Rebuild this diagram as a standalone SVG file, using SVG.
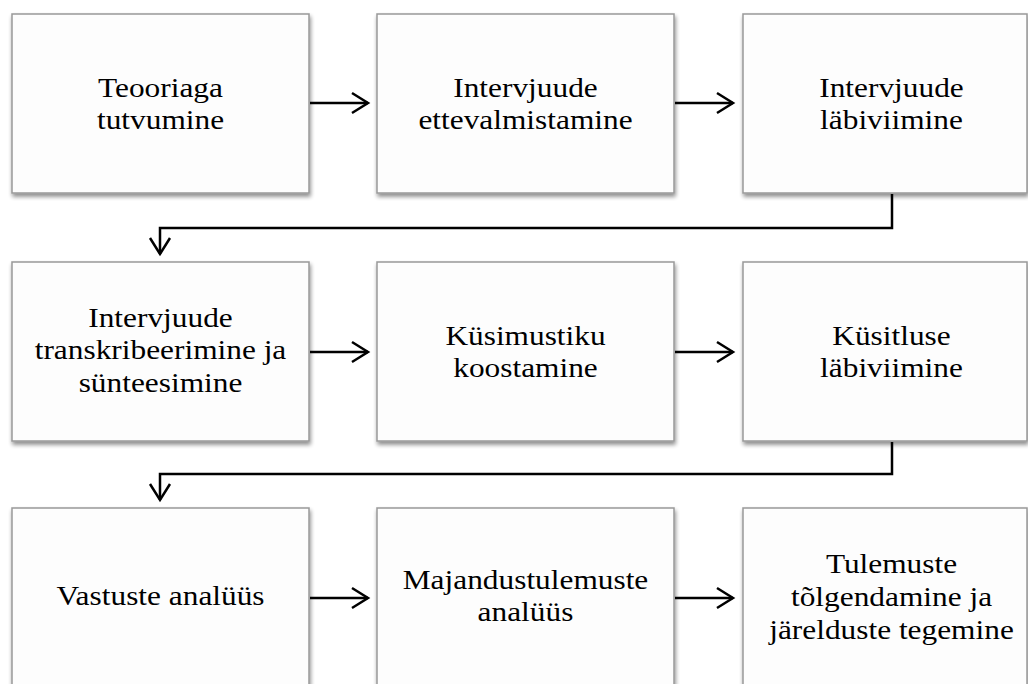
<svg xmlns="http://www.w3.org/2000/svg" width="1028" height="684" viewBox="0 0 1028 684">
<style>
.box{fill:#fdfdfd;stroke:#999;stroke-width:1.5;filter:url(#sh)}
.t{font-family:"Liberation Serif","Times New Roman",serif;font-size:28px;fill:#000;text-anchor:middle}
.c{fill:none;stroke:#000;stroke-width:2.5;marker-end:url(#ah)}
</style>
<defs>
<filter id="sh" x="-5%" y="-5%" width="115%" height="115%">
<feGaussianBlur in="SourceAlpha" stdDeviation="2"/>
<feOffset dx="1" dy="3" result="b"/>
<feComponentTransfer><feFuncA type="linear" slope="0.45"/></feComponentTransfer>
<feMerge><feMergeNode/><feMergeNode in="SourceGraphic"/></feMerge>
</filter>
<marker id="ah" markerUnits="userSpaceOnUse" markerWidth="24" markerHeight="26" refX="18" refY="12" orient="auto" overflow="visible">
<path d="M2,2 L18,12 L2,22" fill="none" stroke="#000" stroke-width="2.5"/>
</marker>
</defs>
<g id="n1"><rect class="box" x="12" y="14" width="297" height="179"/>
<text class="t" transform="translate(160.5,0) scale(1.12,1)"><tspan x="0" y="97">Teooriaga</tspan><tspan x="0" y="129">tutvumine</tspan></text></g>
<g id="n2"><rect class="box" x="377" y="14" width="297" height="179"/>
<text class="t" transform="translate(525.5,0) scale(1.12,1)"><tspan x="0" y="97">Intervjuude</tspan><tspan x="0" y="129">ettevalmistamine</tspan></text></g>
<g id="n3"><rect class="box" x="743" y="14" width="284" height="179"/>
<text class="t" transform="translate(891.5,0) scale(1.12,1)"><tspan x="0" y="97">Intervjuude</tspan><tspan x="0" y="129">läbiviimine</tspan></text></g>
<g id="n4"><rect class="box" x="12" y="262" width="297" height="179"/>
<text class="t" transform="translate(160.5,0) scale(1.12,1)"><tspan x="0" y="327">Intervjuude</tspan><tspan x="0" y="359.5">transkribeerimine ja</tspan><tspan x="0" y="392">sünteesimine</tspan></text></g>
<g id="n5"><rect class="box" x="377" y="262" width="297" height="179"/>
<text class="t" transform="translate(525.5,0) scale(1.12,1)"><tspan x="0" y="345">Küsimustiku</tspan><tspan x="0" y="377">koostamine</tspan></text></g>
<g id="n6"><rect class="box" x="743" y="262" width="284" height="179"/>
<text class="t" transform="translate(891.5,0) scale(1.12,1)"><tspan x="0" y="345">Küsitluse</tspan><tspan x="0" y="377">läbiviimine</tspan></text></g>
<g id="n7"><rect class="box" x="12" y="508" width="297" height="190"/>
<text class="t" transform="translate(160.5,0) scale(1.12,1)"><tspan x="0" y="605">Vastuste analüüs</tspan></text></g>
<g id="n8"><rect class="box" x="377" y="508" width="297" height="190"/>
<text class="t" transform="translate(525.5,0) scale(1.12,1)"><tspan x="0" y="589.5">Majandustulemuste</tspan><tspan x="0" y="621.5">analüüs</tspan></text></g>
<g id="n9"><rect class="box" x="743" y="508" width="284" height="190"/>
<text class="t" transform="translate(891.5,0) scale(1.12,1)"><tspan x="0" y="573">Tulemuste</tspan><tspan x="0" y="606">tõlgendamine ja</tspan><tspan x="0" y="639">järelduste tegemine</tspan></text></g>
<g id="connectors">
<path class="c" d="M310,103 H368"/>
<path class="c" d="M675,103 H733"/>
<path class="c" d="M892,194 V228 H160 V254"/>
<path class="c" d="M310,352 H368"/>
<path class="c" d="M675,352 H733"/>
<path class="c" d="M892,442 V474 H160 V500"/>
<path class="c" d="M310,598 H368"/>
<path class="c" d="M675,598 H733"/>
</g>
</svg>
